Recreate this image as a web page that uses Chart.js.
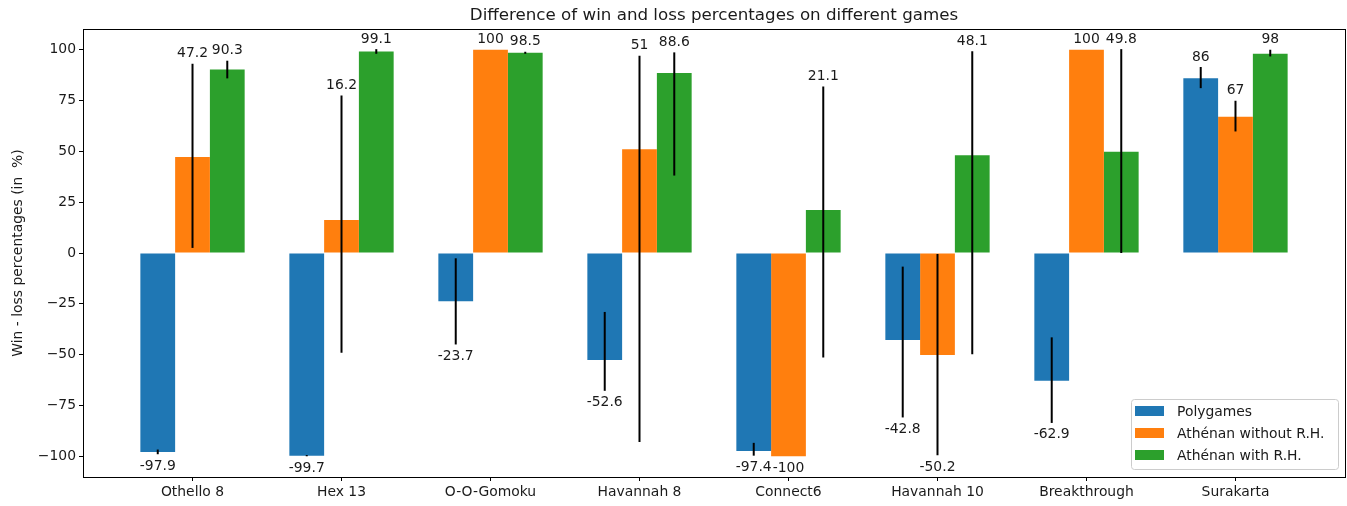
<!DOCTYPE html>
<html>
<head>
<meta charset="utf-8">
<script src="https://cdn.jsdelivr.net/npm/chart.js@4.4.0/dist/chart.umd.min.js"></script>
<style>
  body { margin: 0; background: #fff; }
  canvas { display: block; }
</style>
</head>
<body>
<canvas id="grafico" width="1347" height="506"></canvas>
<script>
const games = ["Othello 8", "Hex 13", "O-O-Gomoku", "Havannah 8", "Connect6", "Havannah 10", "Breakthrough", "Surakarta"];
const seriesNames = ["Polygames", "Athénan without R.H.", "Athénan with R.H."];

const polygames = [-97.9, -99.7, -23.7, -52.6, -97.4, -42.8, -62.9, 86];
const withoutRH = [47.2, 16.2, 100, 51, -100, -50.2, 100, 67];
const withRH = [90.3, 99.1, 98.5, 88.6, 21.1, 48.1, 49.8, 98];

// error bars (read off the picture, not symmetric everywhere)
const polygamesErrPlus = [1.2, 0.3, 21.1, 23.6, 4.0, 36.1, 21.4, 5.5];
const polygamesErrMinus = [1.1, 0.3, 21.3, 15.2, 2.3, 38.1, 20.7, 4.9];
const withoutRHErrPlus = [45.9, 61.3, 0, 46, 0, 49.7, 0, 7.9];
const withoutRHErrMinus = [44.7, 65.3, 0, 144, 0, 49.3, 0, 7.2];
const withRHErrPlus = [4.3, 1.2, 0.5, 10.1, 60.8, 51.1, 50.5, 2.0];
const withRHErrMinus = [4.4, 1.1, 0.5, 50.5, 72.5, 97.9, 49.8, 1.3];

const yTicks = [-100, -75, -50, -25, 0, 25, 50, 75, 100];

const colores = ["#1f77b4", "#ff7f0e", "#2ca02c"];
const valores = [polygames, withoutRH, withRH];
const errPlus = [polygamesErrPlus, withoutRHErrPlus, withRHErrPlus];
const errMinus = [polygamesErrMinus, withoutRHErrMinus, withRHErrMinus];

const fuente = "'DejaVu Sans', sans-serif";
const texto = "#1a1a1a";

const extras = {
  id: "extras",
  afterDatasetsDraw(chart) {
    const ctx = chart.ctx;
    const y = chart.scales.y;
    ctx.save();
    // error bars
    ctx.strokeStyle = "#000";
    ctx.lineWidth = 2;
    valores.forEach((serie, i) => {
      const meta = chart.getDatasetMeta(i);
      serie.forEach((v, j) => {
        const x = meta.data[j].x;
        const hi = v + errPlus[i][j];
        const lo = v - errMinus[i][j];
        if (hi === lo) return;
        ctx.beginPath();
        ctx.moveTo(x, y.getPixelForValue(hi));
        ctx.lineTo(x, y.getPixelForValue(lo));
        ctx.stroke();
      });
    });
    // value labels
    ctx.fillStyle = texto;
    ctx.font = "13.9px " + fuente;
    ctx.textAlign = "center";
    valores.forEach((serie, i) => {
      const meta = chart.getDatasetMeta(i);
      serie.forEach((v, j) => {
        const x = meta.data[j].x;
        if (v >= 0) {
          ctx.textBaseline = "bottom";
          ctx.fillText(String(v), x, y.getPixelForValue(v + errPlus[i][j]) - 3);
        } else {
          ctx.textBaseline = "top";
          ctx.fillText(String(v), x, y.getPixelForValue(v - errMinus[i][j]) + 5);
        }
      });
    });
    ctx.restore();
  },
  afterDraw(chart) {
    const ctx = chart.ctx;
    const a = chart.chartArea;
    ctx.save();
    // frame
    ctx.strokeStyle = "#000";
    ctx.lineWidth = 1;
    ctx.strokeRect(a.left + 0.5, a.top + 0.5, a.right - a.left, a.bottom - a.top);
    // title
    ctx.fillStyle = texto;
    ctx.font = "16.7px " + fuente;
    ctx.textAlign = "center";
    ctx.textBaseline = "alphabetic";
    ctx.fillText("Difference of win and loss percentages on different games", (a.left + a.right) / 2, 20);
    // legend
    const lw = 207, lh = 70;
    const lx = a.right - 7 - lw, ly = a.bottom - 8 - lh;
    ctx.beginPath();
    ctx.roundRect(lx + 0.5, ly + 0.5, lw, lh, 3);
    ctx.fillStyle = "rgba(255,255,255,0.8)";
    ctx.fill();
    ctx.strokeStyle = "#cccccc";
    ctx.stroke();
    ctx.font = "13.9px " + fuente;
    ctx.textAlign = "left";
    ctx.textBaseline = "middle";
    seriesNames.forEach((n, i) => {
      const cy = ly + 12 + i * 22;
      ctx.fillStyle = colores[i];
      ctx.fillRect(lx + 4, cy - 5, 29, 10);
      ctx.fillStyle = texto;
      ctx.fillText(n, lx + 46, cy + 1);
    });
    ctx.restore();
  }
};

new Chart(document.getElementById("grafico"), {
  type: "bar",
  data: {
    datasets: valores.map((serie, i) => ({
      label: seriesNames[i],
      data: serie.map((v, j) => ({ x: j, y: v })),
      backgroundColor: colores[i],
      borderWidth: 0,
      categoryPercentage: 0.7,
      barPercentage: 1.0
    }))
  },
  options: {
    responsive: false,
    animation: false,
    devicePixelRatio: 1,
    layout: { padding: { top: 29, right: 2, left: 0, bottom: 0 } },
    plugins: {
      legend: { display: false },
      tooltip: { enabled: false },
      title: { display: false }
    },
    scales: {
      x: {
        type: "linear",
        min: -0.735,
        max: 7.735,
        offset: false,
        afterFit: s => { s.height = 29; },
        grid: { offset: false, drawOnChartArea: false, drawTicks: true, tickLength: 4, color: "#000" },
        border: { display: false },
        ticks: {
          stepSize: 1,
          includeBounds: false,
          autoSkip: false,
          maxRotation: 0,
          padding: 3,
          color: texto,
          font: { family: fuente, size: 13.9 },
          callback: v => games[v] ?? ""
        }
      },
      y: {
        min: -110.2,
        max: 110.2,
        afterFit: s => { s.width = 83; },
        afterBuildTicks: s => { s.ticks = yTicks.map(v => ({ value: v })); },
        grid: { drawOnChartArea: false, drawTicks: true, tickLength: 4, color: "#000" },
        border: { display: false },
        title: {
          display: true,
          text: "Win - loss percentages (in  %)",
          color: texto,
          font: { family: fuente, size: 13.9 },
          padding: { top: 10, bottom: 0 }
        },
        ticks: {
          padding: 3,
          color: texto,
          font: { family: fuente, size: 13.9 },
          callback: v => v < 0 ? "\u2212" + Math.abs(v) : String(v)
        }
      }
    }
  },
  plugins: [extras]
});
</script>
</body>
</html>
